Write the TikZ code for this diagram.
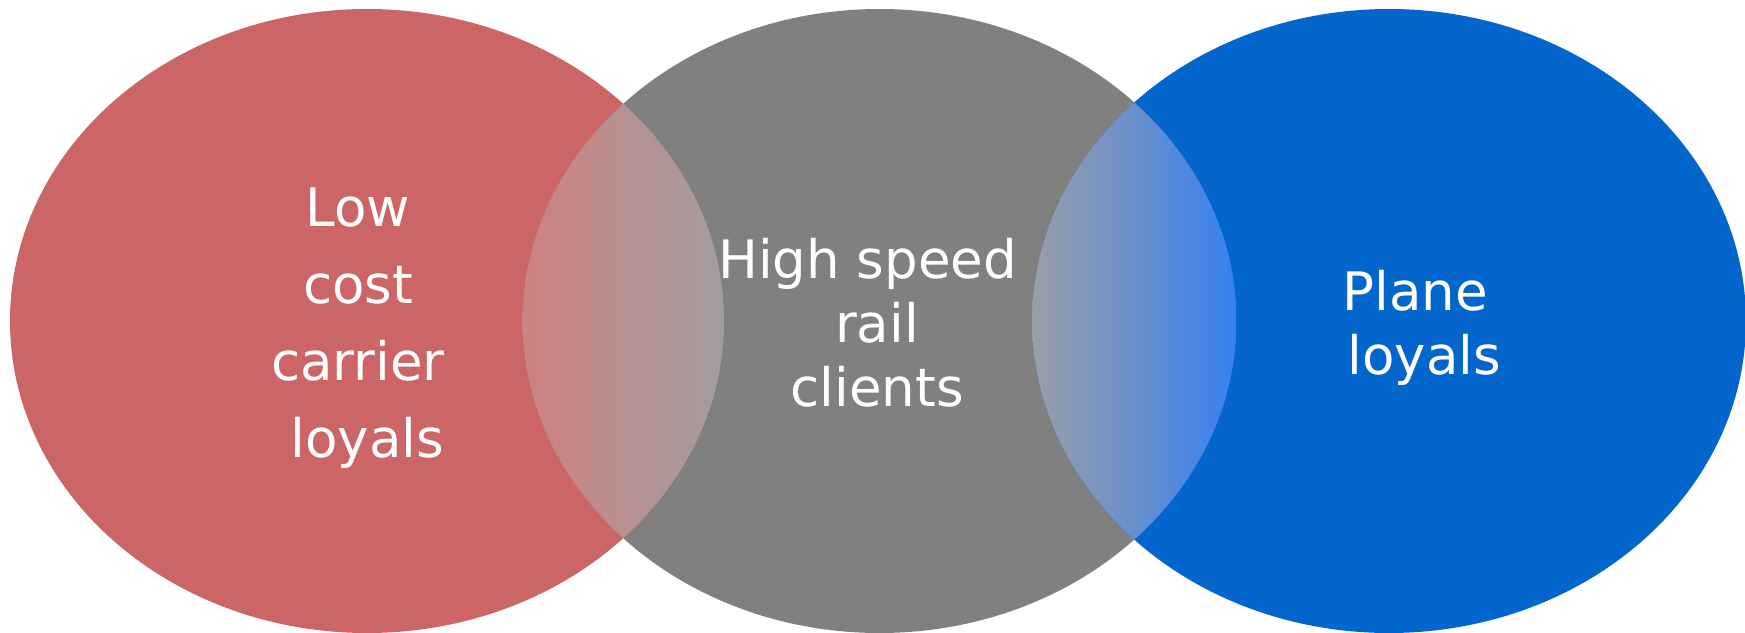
\documentclass[tikz,border=0pt]{standalone}
\usepackage{fontspec}
\setmainfont{DejaVu Sans}
\definecolor{lowcostred}{RGB}{204,102,102}
\definecolor{railgrey}{RGB}{128,128,128}
\definecolor{planeblue}{RGB}{3,102,204}
\definecolor{lensredl}{RGB}{207,129,129}
\definecolor{lensredr}{RGB}{162,157,158}
\definecolor{lensbluel}{RGB}{154,158,168}
\definecolor{lensbluer}{RGB}{54,129,240}

\begin{document}
\begin{tikzpicture}
  [x=1pt, y=-1pt,
   setshape/.style={x radius=357, y radius=312},
   settext/.style={text=white, align=center, inner sep=0pt, anchor=base}]
  \useasboundingbox (0,0) rectangle (1745,632);
  \coordinate (lowcostc) at (367,321);
  \coordinate (railc) at (879.5,321);
  \coordinate (planec) at (1389,321);

  \fill [lowcostred] (lowcostc) ellipse [setshape];
  \fill [railgrey] (railc) ellipse [setshape];
  \fill [planeblue] (planec) ellipse [setshape];

  \begin{scope}
    \clip (lowcostc) ellipse [setshape];
    \clip (railc) ellipse [setshape];
    \shade [left color=lensredl, right color=lensredr] (522,90) rectangle (724,552);
  \end{scope}
  \begin{scope}
    \clip (railc) ellipse [setshape];
    \clip (planec) ellipse [setshape];
    \shade [left color=lensbluel, right color=lensbluer] (1032,90) rectangle (1236.5,552);
  \end{scope}

  % anchor=base sits on the last line
  \node (lowcost) at (358,457) [settext, font=\fontsize{53}{77}\selectfont]
    {Low\\cost\\carrier\\\hspace*{.35em}loyals};
  \node (rail) at (877,406) [settext, font=\fontsize{53}{64}\selectfont]
    {High speed\hspace*{.35em}\\rail\\clients};
  \node (plane) at (1415,374) [settext, font=\fontsize{53}{64}\selectfont]
    {Plane\\\hspace*{.35em}loyals};
\end{tikzpicture}
\end{document}
